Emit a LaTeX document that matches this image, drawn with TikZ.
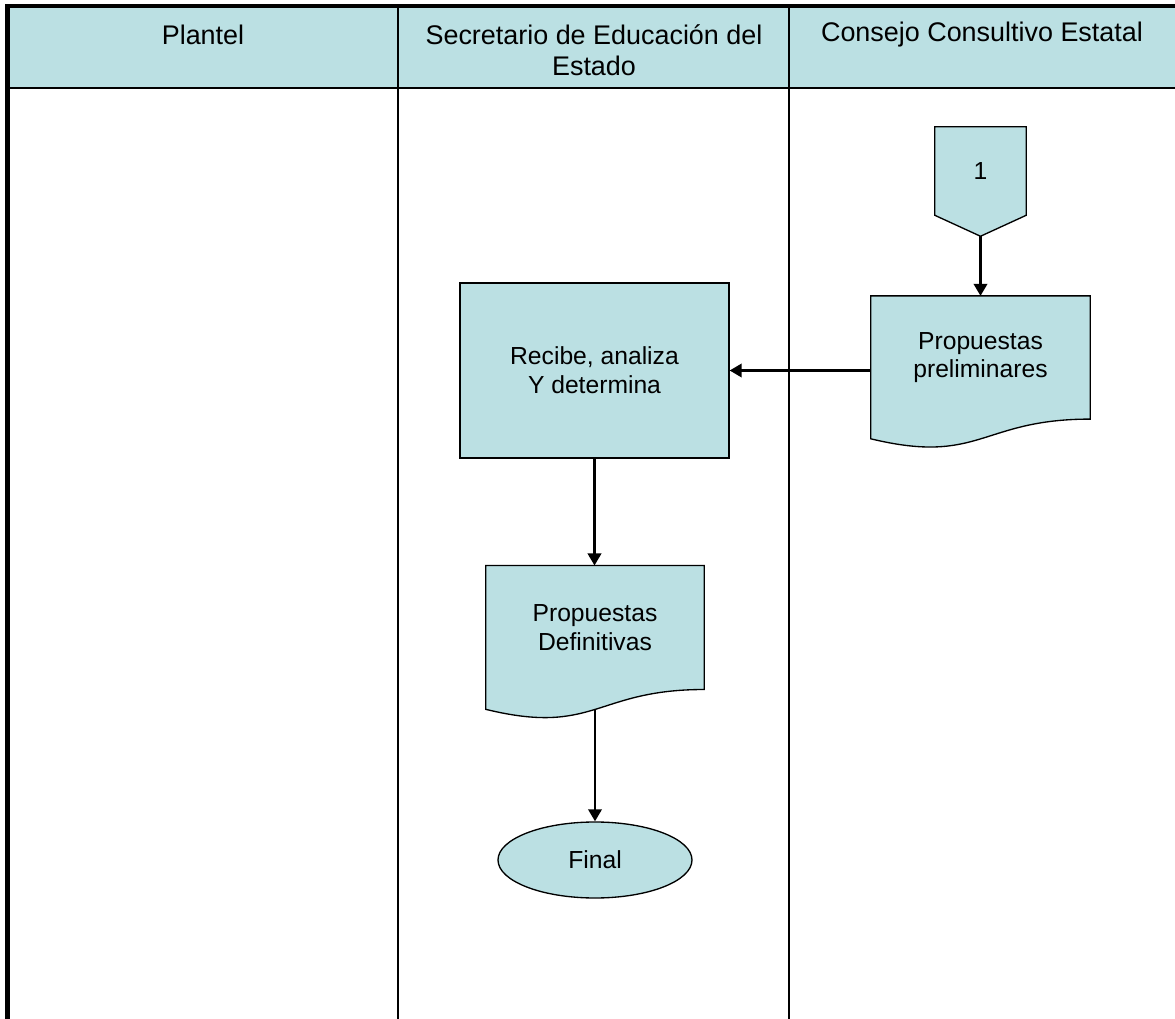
\documentclass[tikz,border=0pt]{standalone}
\usepackage{fontspec}
\setmainfont{Liberation Sans}
\usetikzlibrary{arrows.meta,shapes.geometric,calc}
\pgfdeclarelayer{background}
\pgfsetlayers{background,main}
\definecolor{fillc}{RGB}{187,224,227}
\newcommand\docshape[2]{%
  \draw[shp] (#1.north west) -- (#1.north east) -- (#1.south east)
    .. controls (#1.south) and ($(#1.north)+(0,{1.1075*#2})$)
    .. ($(#1.north west)+(0,{0.934*#2})$) -- cycle;}
\begin{document}
\begin{tikzpicture}[x=0.75pt,y=-0.75pt,
  hdr/.style={font=\fontsize{20.2}{23}\selectfont, align=center},
  txt/.style={font=\fontsize{18.5}{21.5}\selectfont, align=center},
  shp/.style={draw, fill=fillc, line width=1pt},
  arr/.style={-{Triangle[length=9pt,width=10pt]}, line width=1.9pt},
  lane/.style={line width=1.5pt},
  border/.style={line width=3.5pt, line join=miter}]
\useasboundingbox (0,0) rectangle (1175,1019);

% header texts
\node[hdr] (h1) at (203,35) {Plantel};
\node[hdr] (h2) at (594,50) {Secretario de Educación del\\Estado};
\node[hdr] (h3) at (982,35) {Consejo Consultivo Estatal};

% nodes
\node[txt, minimum width=68.25pt, minimum height=66pt, inner sep=0] (c1) at (980.5,171) {1};
\coordinate (c1tip) at ($(c1.south)+(0,21)$);
\node[txt, minimum width=164.25pt, minimum height=92pt, inner sep=0] (d1) at (980.5,357.5) {Propuestas\\preliminares};
\node[shp, txt, minimum width=201.75pt, minimum height=131.25pt, inner sep=0] (p) at (594.5,370.5) {Recibe, analiza\\Y determina};
\node[txt, minimum width=163.5pt, minimum height=92.6pt, inner sep=0] (d2) at (595,627.5) {Propuestas\\Definitivas};
\coordinate (d2b) at ($(d2.north)+(0,{0.933*154})$);
\node[shp, txt, ellipse, minimum width=145.5pt, minimum height=57pt, inner sep=0] (f) at (595,860) {Final};

\begin{pgfonlayer}{background}
  \fill[fillc] (8,8) rectangle (1175,88);
  \draw[lane] (8,88) -- (1175,88);
  \draw[lane] (398,8) -- (398,1019);
  \draw[lane] (789,8) -- (789,1019);
  \draw[border] (7.5,1019) -- (7.5,6) -- (1175,6);
  \draw[shp] (c1.north west) -- (c1.north east) -- (c1.south east) -- (c1tip) -- (c1.south west) -- cycle;
  \docshape{d1}{153}
  \docshape{d2}{154}
\end{pgfonlayer}

% connectors
\draw[arr] (c1tip) -- (d1.north);
\draw[arr] (p.east -| d1.west) -- (p.east);
\draw[arr] (p.south) -- (p.south |- d2.north);
\draw[arr] (d2b) -- (f.north);
\end{tikzpicture}
\end{document}
